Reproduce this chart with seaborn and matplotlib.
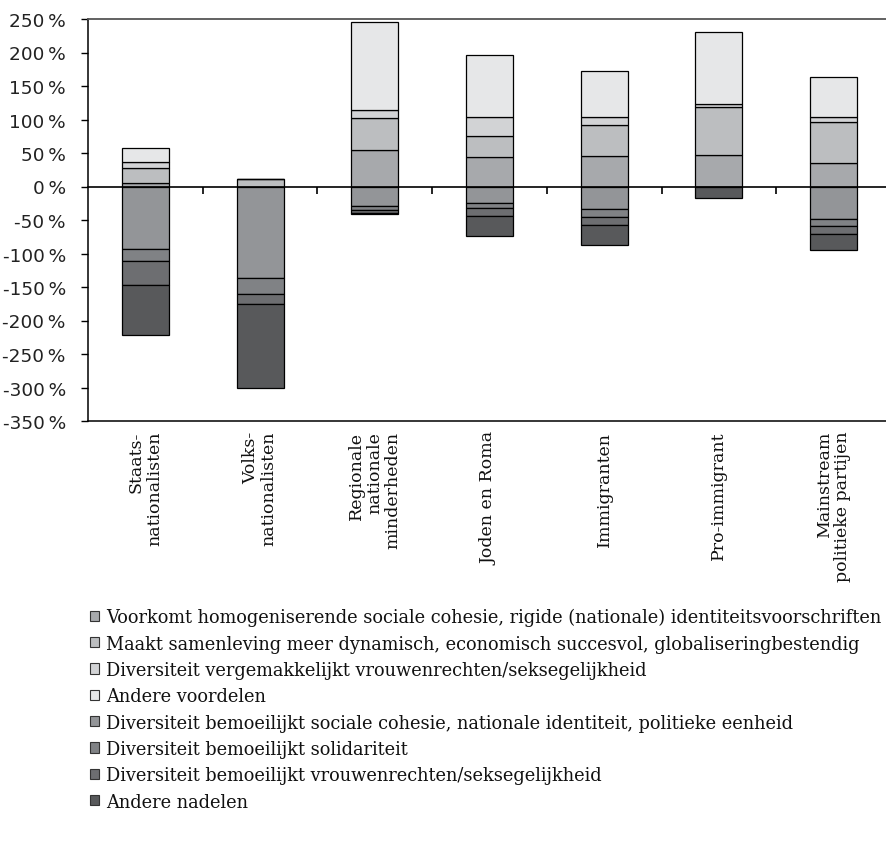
import numpy as np
import matplotlib
matplotlib.use("Agg")
import matplotlib.pyplot as plt
from matplotlib.patches import Patch
from matplotlib.ticker import FuncFormatter, MultipleLocator
import seaborn as sns

# Categories (party / group types)
categories = [
    "Staats-\nnationalisten",
    "Volks-\nnationalisten",
    "Regionale\nnationale\nminderheden",
    "Joden en Roma",
    "Immigranten",
    "Pro-immigrant",
    "Mainstream\npolitieke partijen",
]

# Advantages of diversity (positive, stacked upward)
voorkomt_homogenisering = [4.5, 0.0, 54.2, 43.8, 45.7, 47.2, 34.4]
dynamisch_succesvol = [23.3, 10.9, 48.3, 30.9, 45.4, 71.8, 61.7]
vergemakkelijkt_vrouwenrechten = [9.0, 0.0, 11.0, 28.8, 12.9, 4.4, 7.4]
andere_voordelen = [20.4, 0.0, 132.5, 93.1, 68.7, 107.5, 60.3]

# Disadvantages of diversity (negative, stacked downward)
bemoeilijkt_cohesie = [-93.2, -136.5, -29.0, -24.5, -33.5, 0.0, -48.9]
bemoeilijkt_solidariteit = [-17.9, -24.4, -6.0, -7.9, -11.9, 0.0, -10.4]
bemoeilijkt_vrouwenrechten = [-35.3, -13.9, -4.0, -11.5, -12.4, 0.0, -10.9]
andere_nadelen = [-75.8, -125.2, -2.4, -29.3, -29.9, -17.9, -23.9]

series_labels = [
    "Voorkomt homogeniserende sociale cohesie, rigide (nationale) identiteitsvoorschriften",
    "Maakt samenleving meer dynamisch, economisch succesvol, globaliseringbestendig",
    "Diversiteit vergemakkelijkt vrouwenrechten/seksegelijkheid",
    "Andere voordelen",
    "Diversiteit bemoeilijkt sociale cohesie, nationale identiteit, politieke eenheid",
    "Diversiteit bemoeilijkt solidariteit",
    "Diversiteit bemoeilijkt vrouwenrechten/seksegelijkheid",
    "Andere nadelen",
]
series_colors = [
    "#a7a9ac", "#bcbec0", "#d2d3d5", "#e6e7e8",
    "#939598", "#808285", "#6d6e71", "#58595b",
]

positive_series = [voorkomt_homogenisering, dynamisch_succesvol,
                   vergemakkelijkt_vrouwenrechten, andere_voordelen]
negative_series = [bemoeilijkt_cohesie, bemoeilijkt_solidariteit,
                   bemoeilijkt_vrouwenrechten, andere_nadelen]

sns.set_theme(style="white")
plt.rcParams["font.family"] = ["DejaVu Serif"]

W, H = 886, 845
fig = plt.figure(figsize=(W / 100, H / 100), dpi=100)
ax = fig.add_axes([88 / W, 1 - 422 / H, 803 / W, 402 / H])

bar_kw = dict(width=0.41, edgecolor="black", linewidth=0.9,
              saturation=1, errorbar=None, order=categories, ax=ax)

for group, colors in ((positive_series, series_colors[:4]),
                      (negative_series, series_colors[4:])):
    base = np.zeros(len(categories))
    for vals, col in zip(group, colors):
        vals = np.asarray(vals, dtype=float)
        sns.barplot(x=categories, y=vals, bottom=base.copy(), color=col,
                    zorder=2, **bar_kw)
        base += vals

ax.set_xlim(-0.5, len(categories) - 0.5)
ax.set_ylim(-350, 250)
ax.yaxis.set_major_locator(MultipleLocator(50))
ax.yaxis.set_major_formatter(FuncFormatter(lambda v, p: f"{int(round(v))}\u2009%"))
ax.set_xlabel("")
ax.set_ylabel("")

for lab in ax.get_yticklabels():
    lab.set_fontfamily("DejaVu Sans")
    lab.set_fontsize(13.3)
    lab.set_color("#222222")
ax.tick_params(axis="y", left=True, direction="out", length=5, width=1.0,
               pad=11, color="black")
ax.tick_params(axis="x", bottom=False, length=0, pad=7)
ax.set_xticks(range(len(categories)))
ax.set_xticklabels(categories, rotation=90, ha="center", va="top",
                   multialignment="right", fontsize=12.5, color="#111111",
                   linespacing=1.12)

for side in ("left", "bottom"):
    ax.spines[side].set_color("black")
    ax.spines[side].set_linewidth(1.1)
ax.spines["top"].set_color("#555555")
ax.spines["top"].set_linewidth(1.3)
ax.spines["right"].set_visible(False)

# Zero line with category separators hanging below it
ax2 = ax.twiny()
ax2.set_xlim(ax.get_xlim())
ax2.spines["bottom"].set_position(("data", 0))
for side in ("top", "left", "right"):
    ax2.spines[side].set_visible(False)
ax2.spines["bottom"].set_color("black")
ax2.spines["bottom"].set_linewidth(1.2)
ax2.spines["bottom"].set_zorder(5)
ax2.xaxis.set_ticks_position("bottom")
ax2.set_xticks(np.arange(len(categories) - 1) + 0.5)
ax2.tick_params(axis="x", direction="out", length=5, width=1.2, color="black",
                labelbottom=False, labeltop=False)

handles = [Patch(facecolor=c, edgecolor="#333333", linewidth=0.8) for c in series_colors]
fig.legend(handles, series_labels, loc="upper left",
           bbox_to_anchor=(90 / W, 1 - 609 / H), frameon=False,
           fontsize=12.75, handlelength=0.52, handleheight=0.52,
           handletextpad=0.38, labelspacing=0.47, borderpad=0, borderaxespad=0,
           labelcolor="#111111")

fig.savefig("out.png", dpi=100)
